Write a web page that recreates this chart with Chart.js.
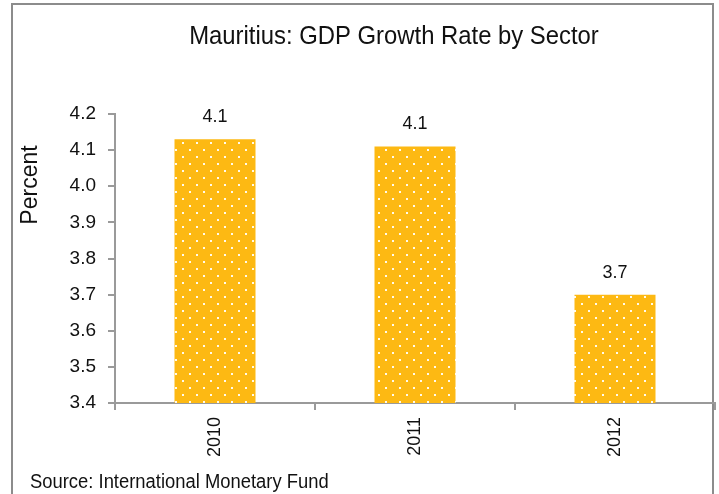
<!DOCTYPE html>
<html>
<head>
<meta charset="utf-8">
<script src="https://cdn.jsdelivr.net/npm/chart.js@4/dist/chart.umd.min.js"></script>
<style>
  html, body { margin: 0; padding: 0; background: #fff; }
  #wrap { position: relative; width: 719px; height: 494px; overflow: hidden; }
  #frame { position: absolute; left: 11px; top: 3px; width: 703px; height: 520px; border: 2px solid #8c8c8c; box-sizing: border-box; }
  canvas { position: absolute; left: 0; top: 0; }
</style>
</head>
<body>
<div id="wrap">
  <div id="frame"></div>
  <canvas id="c" width="719" height="494"></canvas>
</div>
<script>
// GDP growth by year (percent)
const years = ['2010', '2011', '2012'];
const growth = [4.13, 4.11, 3.70];
const yTicks = [3.4, 3.5, 3.6, 3.7, 3.8, 3.9, 4.0, 4.1, 4.2];

const chartTitle = 'Mauritius: GDP Growth Rate by Sector';
const yTitle = 'Percent';
const sourceNote = 'Source: International Monetary Fund';

const FONT = "'Liberation Sans', Arial, sans-serif";
const AXIS_GREY = '#9a9a9a';

// dotted fill for the bars
function dotPattern() {
  const t = document.createElement('canvas');
  t.width = 14; t.height = 14;
  const g = t.getContext('2d');
  g.fillStyle = '#FDB913';
  g.fillRect(0, 0, 14, 14);
  g.fillStyle = 'rgba(255,255,255,0.92)';
  g.fillRect(0, 2, 2, 2);
  g.fillRect(7, 9, 2, 2);
  return document.getElementById('c').getContext('2d').createPattern(t, 'repeat');
}

// text drawn slightly condensed
function condensedText(ctx, text, x, y, squeeze) {
  ctx.save();
  ctx.translate(x, y);
  ctx.scale(squeeze, 1);
  ctx.fillText(text, 0, 0);
  ctx.restore();
}

// title, value labels above bars, axis title and source line
const extras = {
  id: 'extras',
  afterDatasetsDraw(chart) {
    const ctx = chart.ctx;
    ctx.save();
    ctx.fillStyle = '#111';
    ctx.textAlign = 'center';
    ctx.textBaseline = 'middle';
    ctx.font = '26.5px ' + FONT;
    condensedText(ctx, chartTitle, 394, 37, 0.9);
    ctx.font = '18px ' + FONT;
    chart.getDatasetMeta(0).data.forEach((bar, i) => {
      ctx.fillText(growth[i].toFixed(1), bar.x, bar.y - 22);
    });
    ctx.font = '23px ' + FONT;
    ctx.translate(31, 185);
    ctx.rotate(-Math.PI / 2);
    ctx.fillText(yTitle, 0, 0);
    ctx.restore();
    ctx.save();
    ctx.fillStyle = '#111';
    ctx.font = '20px ' + FONT;
    ctx.textAlign = 'left';
    ctx.textBaseline = 'alphabetic';
    condensedText(ctx, sourceNote, 30, 487.5, 0.92);
    ctx.restore();
  }
};

new Chart(document.getElementById('c'), {
  type: 'bar',
  data: {
    labels: years,
    datasets: [{
      data: growth,
      backgroundColor: dotPattern(),
      borderWidth: 0,
      categoryPercentage: 1.0,
      barPercentage: 0.405
    }]
  },
  options: {
    responsive: false,
    animation: false,
    devicePixelRatio: 1,
    layout: { padding: { left: 0, right: 4, top: 114, bottom: 0 } },
    plugins: {
      legend: { display: false },
      tooltip: { enabled: false },
      title: { display: false }
    },
    scales: {
      x: {
        afterFit(s) { s.height = 91; },
        grid: { drawOnChartArea: false, offset: true, tickLength: 7, color: AXIS_GREY, lineWidth: 2 },
        border: { color: AXIS_GREY, width: 2 },
        ticks: {
          color: '#111',
          font: { family: FONT, size: 18 },
          minRotation: 90, maxRotation: 90,
          padding: 7
        }
      },
      y: {
        min: 3.4, max: 4.2,
        afterFit(s) { s.width = 115; },
        afterBuildTicks(s) { s.ticks = yTicks.map(v => ({ value: v })); },
        grid: { drawOnChartArea: false, tickLength: 7, color: AXIS_GREY, lineWidth: 2 },
        border: { color: AXIS_GREY, width: 2 },
        ticks: {
          color: '#111',
          font: { family: FONT, size: 19 },
          padding: 12,
          callback: v => v.toFixed(1)
        }
      }
    }
  },
  plugins: [extras]
});
</script>
</body>
</html>
